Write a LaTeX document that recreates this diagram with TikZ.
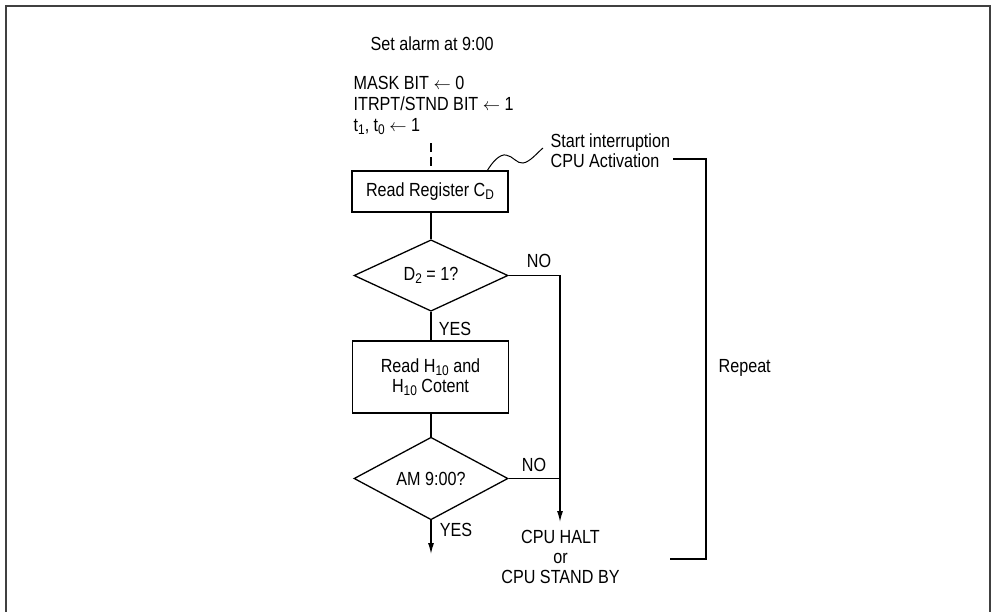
\documentclass[tikz,border=0pt]{standalone}
\usepackage{fontspec}
\setmainfont[FakeStretch=0.85]{Liberation Sans}
\usetikzlibrary{shapes.geometric,arrows.meta}
\newcommand{\mysub}[1]{\raisebox{-0.35ex}{\fontsize{14}{14}\selectfont #1}}
\begin{document}
\begin{tikzpicture}[x=1pt,y=-1pt,line width=1.3pt,
  every node/.style={font=\fontsize{19}{20}\selectfont,inner sep=0pt},
  procbox/.style={draw,rectangle,minimum width=156pt},
  decision/.style={draw,diamond,minimum width=154pt,minimum height=67pt},
  lbl/.style={anchor=base west},
  tip/.style={-{Latex[length=11pt,width=6pt]}},
  frameline/.style={line width=1.8pt,draw=black!75}]
\useasboundingbox (0,0) rectangle (994,611);
\draw[frameline] (6,6) rectangle (990,630);

% header texts
\node[lbl] (title) at (370,50) {Set alarm at 9:00};
\node[lbl] (mask) at (353,89) {MASK BIT $\leftarrow$ 0};
\node[lbl] (itrpt) at (353,110) {ITRPT/STND BIT $\leftarrow$ 1};
\node[lbl] (tt) at (353,131) {t\mysub{1}, t\mysub{0} $\leftarrow$ 1};

% flowchart nodes
\node[procbox,minimum height=41pt] (box1) at (430,191.5) {Read Register C\mysub{D}};
\node[decision] (d1) at (431,275.5) {D\mysub{2} = 1?};
\node[procbox,minimum height=72pt,align=center] (box2) at (430.5,377)
  {Read H\mysub{10} and\\H\mysub{10} Cotent};
\node[decision] (d2) at (431,478.5) {AM 9:00?};

% labels
\node (no1) at (539,261) {NO};
\node (yes1) at (455,328.5) {YES};
\node (no2) at (534,465) {NO};
\node (yes2) at (456,529.5) {YES};

\node[anchor=base] (halt1) at (560.5,543) {CPU HALT};
\node[anchor=base] (halt2) at (560.5,563) {or};
\node[anchor=base] (halt3) at (560.5,583) {CPU STAND BY};

\node[lbl] (start) at (550,147) {Start interruption};
\node[lbl] (act) at (550,167) {CPU Activation};
\node[anchor=west] (repeat) at (718,368) {Repeat};

% coordinates
\coordinate (dstart) at (431,143);
\coordinate (nocorner) at (560,275.5);
\coordinate (haltarrow) at (560,522);
\coordinate (yesend) at (431,554);
\coordinate (wstart) at (487,171);
\coordinate (wend) at (543,148);
\coordinate (brt) at (673,159);
\coordinate (brtr) at (706,159);
\coordinate (brbr) at (706,559);
\coordinate (brb) at (670,559);

% connectors
\draw[dash pattern=on 9pt off 5pt] (dstart) -- (box1.north -| dstart);
\draw (box1.south -| d1.north) -- (d1.north);
\draw (d1.south) -- (box2.north -| d1.south);
\draw (box2.south -| d2.north) -- (d2.north);
\draw[tip] (d2.south) -- (yesend);
\draw[tip] (d1.east) -- (nocorner) -- (haltarrow);
\draw (d2.east) -- (d2.east -| nocorner);

% wave
\draw[line width=1pt] (wstart) .. controls (493,161) and (500,154) .. (506,155)
  .. controls (513,156) and (517,164) .. (523,163)
  .. controls (530,162) and (537,153) .. (wend);

% repeat bracket
\draw (brt) -- (brtr) -- (brbr) -- (brb);
\end{tikzpicture}
\end{document}
